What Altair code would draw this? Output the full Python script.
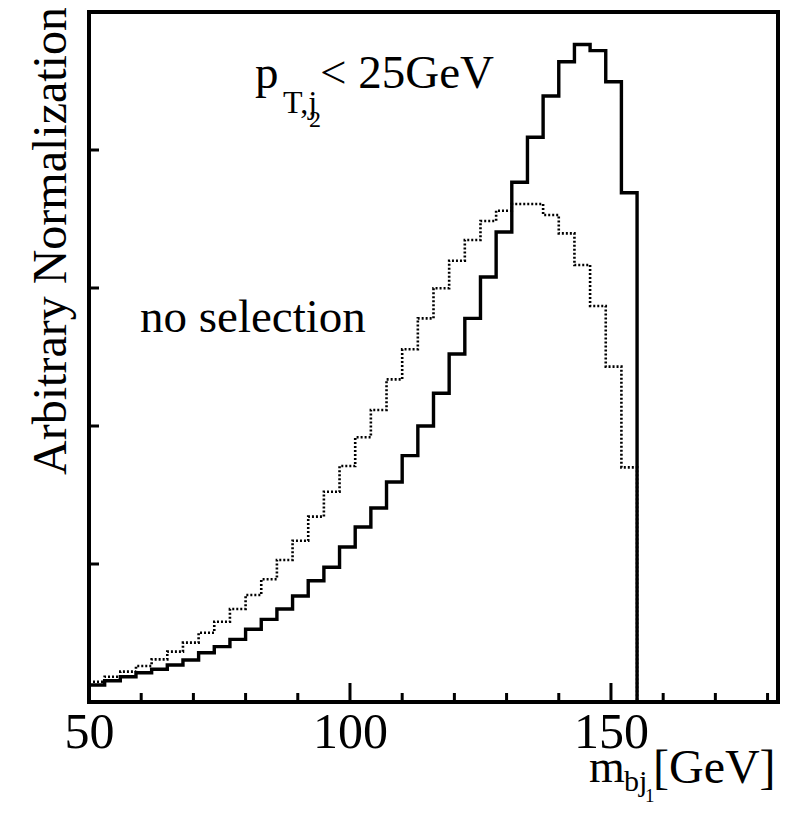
import altair as alt
import pandas as pd

# ---- data ----
bin_edges = [50, 53, 56, 59, 62, 65, 68, 71, 74, 77, 80, 83, 86, 89, 92, 95, 98,
             101, 104, 107, 110, 113, 116, 119, 122, 125, 128, 131, 134, 137, 140,
             143, 146, 149, 152, 155, 158, 161, 164, 167, 170, 173, 176, 179, 182]

ptcut_vals = [0.123, 0.154, 0.183, 0.212, 0.237, 0.268, 0.304, 0.357, 0.401, 0.454,
              0.527, 0.599, 0.674, 0.768, 0.879, 0.976, 1.123, 1.268, 1.406, 1.594,
              1.785, 2.000, 2.237, 2.522, 2.780, 3.080, 3.406, 3.766, 4.092, 4.391,
              4.640, 4.765, 4.720, 4.495, 3.690,
              0, 0, 0, 0, 0, 0, 0, 0, 0]

nosel_vals = [0.147, 0.183, 0.220, 0.261, 0.309, 0.365, 0.430, 0.502, 0.582, 0.674,
              0.775, 0.889, 1.029, 1.169, 1.343, 1.524, 1.710, 1.918, 2.116, 2.338,
              2.556, 2.780, 2.998, 3.198, 3.348, 3.486, 3.560, 3.609, 3.609, 3.529,
              3.396, 3.167, 2.870, 2.430, 1.700,
              0, 0, 0, 0, 0, 0, 0, 0, 0]

x_major = [50, 100, 150]
x_minor = [60, 70, 80, 90, 110, 120, 130, 140, 160, 170, 180]
y_ticks = [1, 2, 3, 4]

FONT = "Liberation Serif"
W, H = 689, 690


def step_df(vals):
    return pd.DataFrame({"x": bin_edges, "y": vals + [vals[-1]]})


xscale = alt.Scale(domain=[50, 182], nice=False, zero=False)
yscale = alt.Scale(domain=[0, 5], nice=False, zero=True)

xaxis = alt.Axis(values=x_major, ticks=False, domain=False, grid=False,
                 labelFont=FONT, labelFontSize=50, labelColor="black",
                 labelPadding=5, labelFlush=False, labelOverlap=False, title=None)

dotted = alt.Chart(step_df(nosel_vals)).mark_line(
    interpolate="step-after", color="black", strokeWidth=2.6, strokeDash=[2, 2]
).encode(
    x=alt.X("x:Q", scale=xscale, axis=xaxis),
    y=alt.Y("y:Q", scale=yscale, axis=None),
)

solid = alt.Chart(step_df(ptcut_vals)).mark_line(
    interpolate="step-after", color="black", strokeWidth=3.4
).encode(
    x=alt.X("x:Q", scale=xscale),
    y=alt.Y("y:Q", scale=yscale),
)

major = alt.Chart(pd.DataFrame({"x": x_major})).mark_rule(
    color="black", strokeWidth=3).encode(
    x=alt.X("x:Q", scale=xscale), y=alt.value(H), y2=alt.value(H - 19))
minor = alt.Chart(pd.DataFrame({"x": x_minor})).mark_rule(
    color="black", strokeWidth=3).encode(
    x=alt.X("x:Q", scale=xscale), y=alt.value(H), y2=alt.value(H - 9))
yt = alt.Chart(pd.DataFrame({"y": y_ticks})).mark_rule(
    color="black", strokeWidth=3).encode(
    y=alt.Y("y:Q", scale=yscale), x=alt.value(0), x2=alt.value(10))


def label(txt, x, y, size, align="left", angle=0):
    return alt.Chart(pd.DataFrame({"t": [txt]})).mark_text(
        font=FONT, fontSize=size, align=align, baseline="alphabetic",
        color="black", angle=angle
    ).encode(x=alt.value(x), y=alt.value(y), text="t:N")


texts = [
    label("no selection", 51, 320, 47),
    label("p", 166, 76, 47),
    label("T,j", 194, 101, 32),
    label("2", 220, 115, 24),
    label("< 25GeV", 231, 76, 47),
    label("m", 500, 770, 46),
    label("bj", 535, 779, 30),
    label("1", 556, 790, 19),
    label("[GeV]", 564, 771, 48),
    label("Arbitrary Normalization", -23, 229, 48, align="center", angle=270),
]

chart = alt.layer(dotted, solid, major, minor, yt, *texts).properties(
    width=W, height=H,
    autosize=alt.AutoSizeParams(type="none"),
    padding={"left": 81, "top": 4, "right": 12, "bottom": 104},
    background="white",
).configure_view(stroke="black", strokeWidth=4)

chart.save("out.html", embed_options={"renderer": "svg", "actions": False})
